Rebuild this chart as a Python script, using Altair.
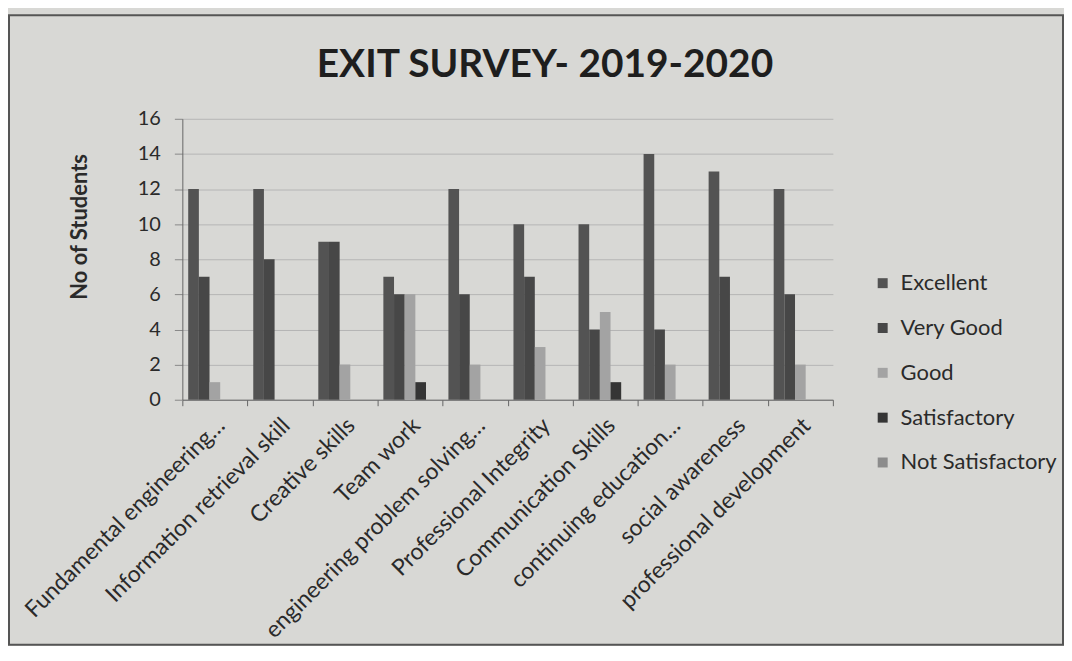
import altair as alt
import pandas as pd

categories = [
    "Fundamental engineering…",
    "Information retrieval skill",
    "Creative skills",
    "Team work",
    "engineering problem solving…",
    "Professional Integrity",
    "Communication Skills",
    "continuing education…",
    "social awareness",
    "professional development",
]
series = ["Excellent", "Very Good", "Good", "Satisfactory", "Not Satisfactory"]
excellent = [12, 12, 9, 7, 12, 10, 10, 14, 13, 12]
very_good = [7, 8, 9, 6, 6, 7, 4, 4, 7, 6]
good = [1, 0, 2, 6, 2, 3, 5, 2, 0, 2]
satisfactory = [0, 0, 0, 1, 0, 0, 1, 0, 0, 0]
not_satisfactory = [0, 0, 0, 0, 0, 0, 0, 0, 0, 0]
colors = ["#535353", "#474747", "#a3a3a3", "#353535", "#8c8c8c"]
y_ticks = [0, 2, 4, 6, 8, 10, 12, 14, 16]
chart_title = "EXIT SURVEY- 2019-2020"

rows = []
for s, vals in zip(series, [excellent, very_good, good, satisfactory, not_satisfactory]):
    for c, v in zip(categories, vals):
        rows.append({"category": c, "series": s, "value": v})
df = pd.DataFrame(rows)

W, H = 653, 282
FONT = "Lato"
TXT = "#2a2a2a"

bars = alt.Chart(df).mark_bar().encode(
    x=alt.X(
        "category:N",
        sort=categories,
        scale=alt.Scale(paddingInner=0, paddingOuter=0),
        axis=alt.Axis(
            title=None,
            labelAngle=-45,
            labelAlign="right",
            labelBaseline="middle",
            labelFontSize=23,
            labelFont=FONT,
            labelColor=TXT,
            labelPadding=16,
            labelOffset=6,
            labelLimit=500,
            tickBand="extent",
            tickSize=6,
            tickColor="#666666",
            domainColor="#666666",
            grid=False,
        ),
    ),
    xOffset=alt.XOffset(
        "series:N", sort=series, scale=alt.Scale(paddingOuter=0.55, paddingInner=0)
    ),
    y=alt.Y(
        "value:Q",
        scale=alt.Scale(domain=[0, 16]),
        axis=alt.Axis(
            values=y_ticks,
            title="No of Students",
            titleFont=FONT,
            titleFontSize=22,
            titleFontWeight="bold",
            titleColor=TXT,
            titlePadding=46,
            titleY=108,
            labelFont=FONT,
            labelFontSize=20,
            labelColor=TXT,
            labelPadding=14,
            tickSize=8,
            tickColor="#888888",
            domainColor="#666666",
            gridColor="#b5b5b5",
        ),
    ),
    color=alt.Color(
        "series:N",
        sort=series,
        scale=alt.Scale(domain=series, range=colors),
        legend=alt.Legend(
            title=None,
            orient="none",
            legendX=692,
            legendY=154,
            labelFont=FONT,
            labelFontSize=22,
            labelColor=TXT,
            symbolType="square",
            symbolSize=100,
            symbolStrokeWidth=0,
            rowPadding=23,
            labelOffset=7,
        ),
    ),
)

frame = alt.Chart(pd.DataFrame({"a": [0]})).mark_rect(
    fillOpacity=0, stroke="#555555", strokeWidth=2, clip=False
).encode(
    x=alt.value(-174), x2=alt.value(884), y=alt.value(-104), y2=alt.value(528)
)

title = alt.Chart(pd.DataFrame({"t": [chart_title]})).mark_text(
    font=FONT, fontSize=39, fontWeight="bold", color="#1e1e1e",
    align="center", baseline="middle", clip=False
).encode(text="t:N", x=alt.value(364), y=alt.value(-54))

chart = alt.layer(frame, bars, title).properties(
    width=W,
    height=H,
    autosize="none",
    padding={"left": 175, "top": 110, "right": 232, "bottom": 246},
    background="#d8d8d5",
).configure_view(stroke=None)

chart.save("out.html", embed_options={"renderer": "svg", "actions": False})
